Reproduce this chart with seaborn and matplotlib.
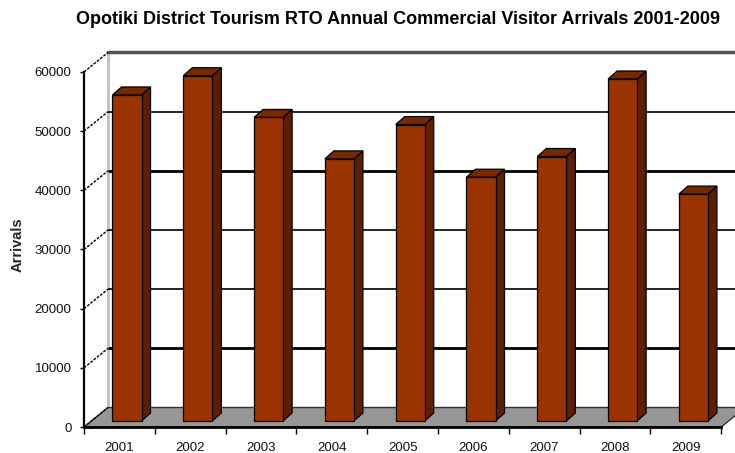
import matplotlib
matplotlib.use("Agg")
import matplotlib.pyplot as plt
from matplotlib.patches import Polygon
import seaborn as sns
import pandas as pd

years = ["2001", "2002", "2003", "2004", "2005", "2006", "2007", "2008", "2009"]
arrivals = [55100, 58350, 51300, 44300, 50100, 41200, 44700, 57800, 38350]
yticks = [0, 10000, 20000, 30000, 40000, 50000, 60000]
title = "Opotiki District Tourism RTO Annual Commercial Visitor Arrivals 2001-2009"
ylabel = "Arrivals"

df = pd.DataFrame({"Year": years, "Arrivals": arrivals})

sns.set_theme(style="white")
plt.rcParams["font.family"] = ["Liberation Sans", "DejaVu Sans"]

W, H = 735, 453
fig = plt.figure(figsize=(W / 100, H / 100), dpi=100)

PX_X = 70.8        # pixels per category
PX_Y = 0.005917    # pixels per value unit
left_px, zero_px, top_px = 84, 427, 40
ax = fig.add_axes([left_px / W, (H - zero_px) / H, (W - left_px) / W, (zero_px - top_px) / H])
xmin = -0.5
xmax = xmin + (W - left_px) / PX_X
ymax = (zero_px - top_px) / PX_Y

# depth of the 3-D box
DX = 24 / PX_X
DY = 19.5 / PX_Y
# bar placement inside depth
BX = 7.6 / PX_X
BY = 6 / PX_Y
BDX = 9 / PX_X
BDY = 8 / PX_Y

front = "#993300"
side = "#5e1f00"
topc = "#772800"

sns.barplot(data=df, x="Year", y="Arrivals", color=front, saturation=1,
            width=0.41, edgecolor="black", linewidth=0.9, zorder=5, ax=ax)

for p in ax.patches:
    p.set_x(p.get_x() + BX)
    p.set_y(p.get_y() + BY)
    x0, y0 = p.get_x(), p.get_y()
    w, h = p.get_width(), p.get_height()
    x1, y1 = x0 + w, y0 + h
    ax.add_patch(Polygon([(x1, y0), (x1 + BDX, y0 + BDY), (x1 + BDX, y1 + BDY), (x1, y1)],
                         closed=True, facecolor=side, edgecolor="black", lw=0.9, zorder=4))
    ax.add_patch(Polygon([(x0, y1), (x1, y1), (x1 + BDX, y1 + BDY), (x0 + BDX, y1 + BDY)],
                         closed=True, facecolor=topc, edgecolor="black", lw=0.9, zorder=4))

n = len(years)
# floor
ax.add_patch(Polygon([(xmin, 0), (xmin + n, 0), (xmin + n + DX, DY), (xmin + DX, DY)],
                     closed=True, facecolor="#969696", edgecolor="#333333", lw=1.0, zorder=2))
# back wall left edge
ax.plot([xmin + DX, xmin + DX], [DY, yticks[-1] + DY], color="#c0c0c0", lw=2, zorder=1)
# back wall gridlines
for v in yticks[1:-1]:
    lw = 2.0 if v in (10000, 40000) else 1.2
    ax.plot([xmin + DX, xmax + 1], [v + DY, v + DY], color="black", lw=lw, zorder=1, solid_capstyle="butt")
ax.plot([xmin + DX, xmax + 1], [yticks[-1] + DY, yticks[-1] + DY], color="#555555", lw=2.5, zorder=1)
# left wall diagonals
for v in yticks:
    ax.plot([xmin, xmin + DX], [v, v + DY], color="black", lw=1.0, ls=(0, (2, 1)), zorder=2)

ax.set_xlim(xmin, xmax)
ax.set_ylim(0, ymax)

for s in ["top", "right"]:
    ax.spines[s].set_visible(False)
ax.spines["left"].set_bounds(0, yticks[-1])
ax.spines["left"].set_color("black")
ax.spines["left"].set_linewidth(1.6)
ax.spines["left"].set_zorder(6)
ax.spines["bottom"].set_bounds(xmin, xmin + n)
ax.spines["bottom"].set_color("black")
ax.spines["bottom"].set_linewidth(2.0)
ax.spines["bottom"].set_zorder(6)

ax.set_yticks(yticks)
ax.set_yticklabels([str(v) for v in yticks])
ax.tick_params(axis="y", which="major", left=True, length=3, width=1, color="black",
               pad=6, labelsize=9.5, labelcolor="#111111")
ax.set_xticks(range(n))
ax.set_xticklabels(years)
ax.set_xticks([xmin + k for k in range(n + 1)], minor=True)
ax.tick_params(axis="x", which="major", bottom=False, length=0, pad=11, labelsize=9.5,
               labelcolor="#111111")
ax.tick_params(axis="x", which="minor", bottom=True, length=5, width=1, color="black")
ax.set_xlabel("")
ax.set_ylabel("")
ax.grid(False)

fig.text(18 / W, 1 - 245 / H, ylabel, rotation=90, ha="center", va="center",
         fontsize=10.5, fontweight="bold")
fig.text(398 / W, 1 - 20 / H, title, ha="center", va="center", fontsize=13,
         fontweight="bold", color="black")

fig.savefig("out.png", dpi=100)
